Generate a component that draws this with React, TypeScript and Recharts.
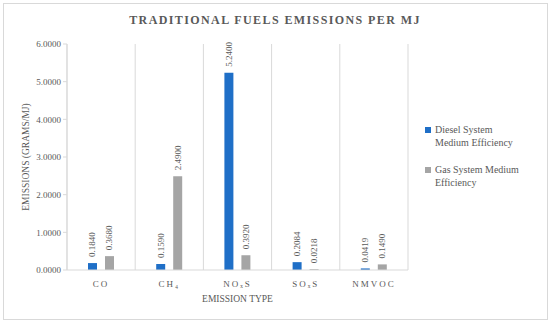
import React from "react";
import { BarChart, Bar, XAxis, YAxis, CartesianGrid, LabelList } from "recharts";

const categories = ["CO", "CH₄", "NOₓS", "SOₓS", "NMVOC"];
const dieselValues = [0.184, 0.159, 5.24, 0.2084, 0.0419];
const gasValues = [0.368, 2.49, 0.392, 0.0218, 0.149];
const yTicks = [0, 1, 2, 3, 4, 5, 6];
const seriesNames = ["Diesel System Medium Efficiency", "Gas System Medium Efficiency"];

const BLUE = "#1F6FC7";
const GREY = "#A5A5A5";
const TEXT = "#595959";
const LINE = "#D9D9D9";
const FONT = "Liberation Serif, serif";

const data = categories.map((name, i) => ({
    name,
    diesel: dieselValues[i],
    gas: gasValues[i],
}));

function ValueLabel(props: any) {
    const { x, y, width, value } = props;
    const cx = x + width / 2;
    const ty = y - 6;
    return (
        <text
            x={cx}
            y={ty}
            transform={`rotate(-90, ${cx}, ${ty})`}
            textAnchor="start"
            dominantBaseline="central"
            fontSize={9}
            fontFamily={FONT}
            fill={TEXT}
        >
            {Number(value).toFixed(4)}
        </text>
    );
}

function CategoryTick(props: any) {
    const { x, y, payload } = props;
    return (
        <text
            x={x}
            y={y + 9}
            textAnchor="middle"
            fontSize={9}
            fontFamily={FONT}
            fill={TEXT}
            letterSpacing={2}
        >
            {payload.value}
        </text>
    );
}

export default function App() {
    return (
        <div style={{ position: "absolute", left: 0, top: 0, width: 550, height: 321, background: "#fff" }}>
            <div
                style={{
                    position: "absolute",
                    left: 3,
                    top: 3,
                    width: 543,
                    height: 315,
                    border: `1px solid ${LINE}`,
                }}
            />
            <BarChart
                width={550}
                height={321}
                data={data}
                margin={{ top: 44, right: 142, left: 0, bottom: 21 }}
                barGap={8}
                barSize={9}
            >
                <text
                    x={275}
                    y={24}
                    textAnchor="middle"
                    fontSize={12}
                    fontWeight="bold"
                    fontFamily={FONT}
                    fill={TEXT}
                    letterSpacing={1.4}
                >
                    TRADITIONAL FUELS EMISSIONS PER MJ
                </text>
                <CartesianGrid
                    horizontal={false}
                    stroke={LINE}
                    verticalCoordinatesGenerator={({ offset }: any) =>
                        categories.map((_, i) => offset.left + (offset.width * i) / categories.length).concat(offset.left + offset.width)
                    }
                />
                <XAxis
                    dataKey="name"
                    height={30}
                    axisLine={{ stroke: LINE }}
                    tickLine={false}
                    tick={<CategoryTick />}
                    interval={0}
                    label={{
                        value: "EMISSION TYPE",
                        position: "insideBottom",
                        offset: -2,
                        fontSize: 9.5,
                        fontFamily: FONT,
                        fill: TEXT,
                    }}
                />
                <YAxis
                    width={67}
                    domain={[0, 6]}
                    ticks={yTicks}
                    tickFormatter={(v: number) => v.toFixed(4)}
                    axisLine={{ stroke: LINE }}
                    tickLine={{ stroke: LINE }}
                    tickSize={4}
                    tick={{ fontSize: 9, fontFamily: FONT, fill: TEXT }}
                    label={{
                        value: "EMISSIONS (GRAMS/MJ)",
                        angle: -90,
                        position: "insideLeft",
                        offset: 26,
                        style: { textAnchor: "middle" },
                        fontSize: 9.5,
                        fontFamily: FONT,
                        fill: TEXT,
                    }}
                />
                <Bar dataKey="diesel" fill={BLUE} isAnimationActive={false}>
                    <LabelList dataKey="diesel" content={<ValueLabel />} />
                </Bar>
                <Bar dataKey="gas" fill={GREY} isAnimationActive={false}>
                    <LabelList dataKey="gas" content={<ValueLabel />} />
                </Bar>
            </BarChart>
            <div
                style={{
                    position: "absolute",
                    left: 425,
                    top: 123,
                    width: 115,
                    fontFamily: FONT,
                    fontSize: 10,
                    lineHeight: "13px",
                    color: TEXT,
                }}
            >
                {seriesNames.map((n, i) => (
                    <div key={n} style={{ position: "relative", paddingLeft: 10, marginBottom: 14 }}>
                        <span
                            style={{
                                position: "absolute",
                                left: 0,
                                top: 4,
                                width: 6,
                                height: 6,
                                background: i === 0 ? BLUE : GREY,
                            }}
                        />
                        {i === 0 ? (
                            <>Diesel System<br />Medium Efficiency</>
                        ) : (
                            <>Gas System Medium<br />Efficiency</>
                        )}
                    </div>
                ))}
            </div>
        </div>
    );
}
